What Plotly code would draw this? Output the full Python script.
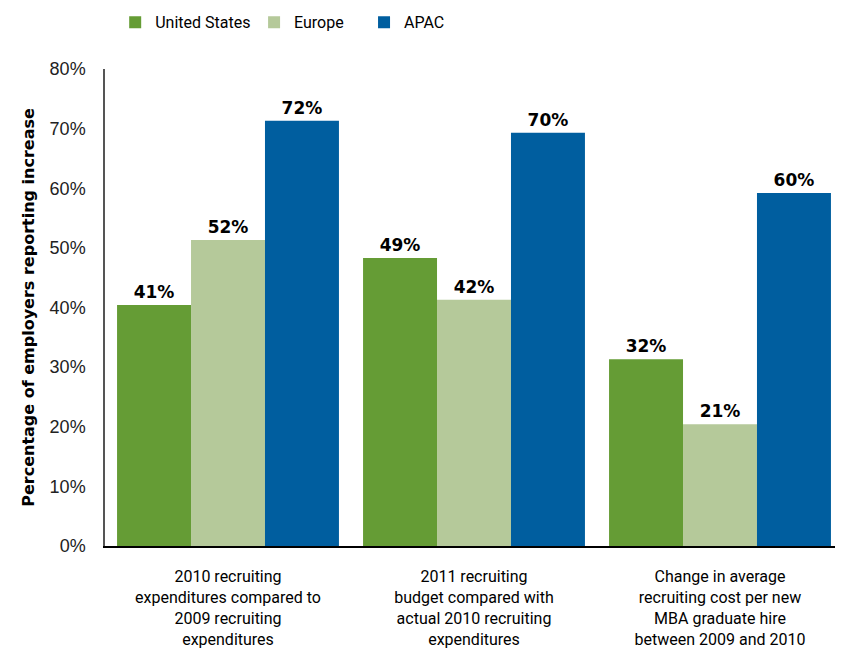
import plotly.graph_objects as go

categories = [
    "2010 recruiting<br>expenditures compared to<br>2009 recruiting<br>expenditures",
    "2011 recruiting<br>budget compared with<br>actual 2010 recruiting<br>expenditures",
    "Change in average<br>recruiting cost per new<br>MBA graduate hire<br>between 2009 and 2010",
]
us_values = [40.4, 48.3, 31.3]
europe_values = [51.3, 41.3, 20.4]
apac_values = [71.3, 69.3, 59.2]
us_labels = ["41%", "49%", "32%"]
europe_labels = ["52%", "42%", "21%"]
apac_labels = ["72%", "70%", "60%"]
y_ticks = [0, 10, 20, 30, 40, 50, 60, 70, 80]

NARROW = "Roboto"
BOLD = "DejaVu Sans"
series = [
    ("United States", us_values, us_labels, "#659c35", "legend", 0.0138),
    ("Europe", europe_values, europe_labels, "#b5c99a", "legend2", 0.202),
    ("APAC", apac_values, apac_labels, "#005e9f", "legend3", 0.351),
]

fig = go.Figure()
legends = {}
for name, vals, labels, color, leg, lx in series:
    fig.add_trace(
        go.Bar(
            x=categories,
            y=vals,
            name=name,
            legend=leg,
            marker=dict(color=color, line=dict(width=0)),
            text=labels,
            textposition="outside",
            cliponaxis=False,
            textfont=dict(family=BOLD, size=17, color="black", weight="bold"),
        )
    )
    legends[leg] = dict(
        orientation="h",
        x=lx,
        xanchor="left",
        y=1.098,
        yanchor="middle",
        font=dict(size=16, family=NARROW, color="black"),
        bgcolor="rgba(0,0,0,0)",
    )

# page body has an 8px margin, so the figure is drawn 8px smaller
fig.update_layout(
    width=835,
    height=643,
    barmode="group",
    bargap=0.098,
    bargroupgap=0,
    plot_bgcolor="white",
    paper_bgcolor="white",
    font=dict(family=NARROW, color="black"),
    margin=dict(l=97, r=0, t=61, b=105, autoexpand=False),
    showlegend=True,
    uniformtext=dict(minsize=8, mode="show"),
    **legends,
)

fig.update_yaxes(
    range=[0, 80],
    tickvals=y_ticks,
    ticktext=[f"{v}%" for v in y_ticks],
    showgrid=False,
    zeroline=False,
    showline=True,
    linecolor="#555555",
    linewidth=1.5,
    ticks="",
    automargin=False,
    tickfont=dict(size=18, family="Liberation Sans", color="#222222"),
    ticklabelstandoff=14,
    title=dict(
        text="<b>Percentage of employers reporting increase</b>",
        font=dict(size=16, family=BOLD, color="black"),
        standoff=11,
    ),
)
fig.update_xaxes(
    showgrid=False,
    showline=True,
    linecolor="black",
    linewidth=2,
    ticks="",
    automargin=False,
    tickfont=dict(size=16, family=NARROW, color="black"),
    ticklabelstandoff=15,
)

fig.write_html("out.html")
